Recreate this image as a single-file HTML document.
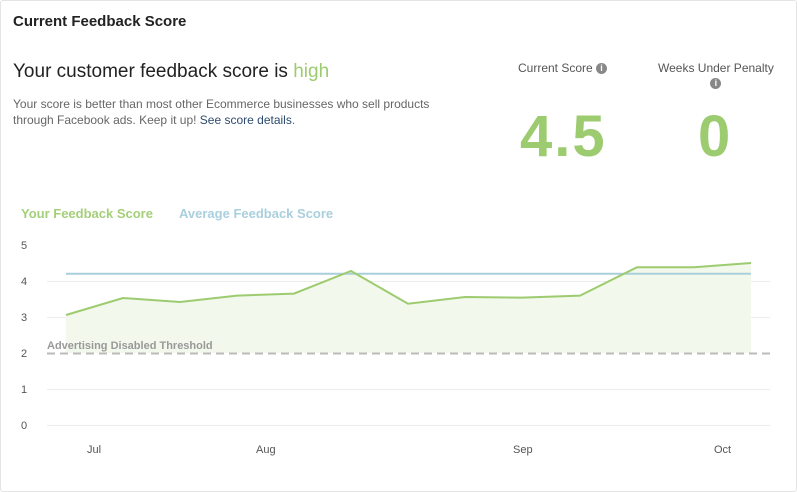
<!DOCTYPE html>
<html><head><style>
body{margin:0;background:#fff;font-family:"Liberation Sans",sans-serif;}
.card{position:absolute;left:0;top:0;width:795px;height:490px;border:1px solid #e4e4e4;border-radius:3px;}
.t{position:absolute;white-space:nowrap;}
</style></head><body>
<div class="card"></div>
<div class="t" style="left:13px;top:13px;font-size:15px;font-weight:bold;color:#222;">Current Feedback Score</div>
<div class="t" style="left:13px;top:61px;font-size:19px;color:#222;">Your customer feedback score is <span style="color:#9dcb6f">high</span></div>
<div class="t" style="left:13px;top:96px;font-size:12px;color:#666;line-height:16px;">Your score is better than most other Ecommerce businesses who sell products<br>through Facebook ads. Keep it up! <span style="color:#2c4a6e">See score details</span>.</div>
<div class="t" style="left:518px;top:61px;font-size:12px;color:#555;">Current Score <span style="display:inline-block;width:11px;height:11px;border-radius:50%;background:#888;color:#fff;font-size:9px;text-align:center;line-height:11px;font-weight:bold;vertical-align:1px">i</span></div>
<div class="t" style="left:658px;top:61px;font-size:12px;color:#555;text-align:center;">Weeks Under Penalty<br><span style="display:inline-block;width:11px;height:11px;border-radius:50%;background:#888;color:#fff;font-size:9px;text-align:center;line-height:11px;font-weight:bold;">i</span></div>
<div class="t" style="left:520px;top:103px;font-size:58px;font-weight:bold;color:#9dcb6f;letter-spacing:2px;">4.5</div>
<div class="t" style="left:698px;top:103px;font-size:58px;font-weight:bold;color:#9dcb6f;">0</div>
<div class="t" style="left:21px;top:206px;font-size:13px;font-weight:bold;color:#a5cf7a;">Your Feedback Score</div>
<div class="t" style="left:179px;top:206px;font-size:13px;font-weight:bold;color:#aacfdd;">Average Feedback Score</div>
<svg width="797" height="492" style="position:absolute;left:0;top:0" font-family="Liberation Sans,sans-serif">
<g stroke="#ececec" stroke-width="1">
<line x1="47" y1="281.5" x2="770" y2="281.5"/><line x1="47" y1="317.5" x2="770" y2="317.5"/>
<line x1="47" y1="389.5" x2="770" y2="389.5"/><line x1="47" y1="425.5" x2="770" y2="425.5"/>
</g>
<g font-size="11" fill="#555">
<text x="21" y="249">5</text><text x="21" y="285">4</text><text x="21" y="321">3</text><text x="21" y="357">2</text><text x="21" y="393">1</text><text x="21" y="429">0</text>
<text x="87" y="453">Jul</text><text x="256" y="453">Aug</text><text x="513" y="453">Sep</text><text x="714" y="453">Oct</text>
</g>
<polygon fill="#f2f8ec" points="66,315 123,298 180,302 237,295.6 294,293.6 351,271 408,303.7 465,297 522,297.6 580,295.6 637,267.3 694,267.3 751,263 751,353 66,353"/>
<line x1="66" y1="273.8" x2="751" y2="273.8" stroke="#a9cfdc" stroke-width="2"/>
<polyline fill="none" stroke="#9dcb6f" stroke-width="2" points="66,315 123,298 180,302 237,295.6 294,293.6 351,271 408,303.7 465,297 522,297.6 580,295.6 637,267.3 694,267.3 751,263"/>
<line x1="47" y1="353.5" x2="770" y2="353.5" stroke="#bbb" stroke-width="2" stroke-dasharray="8,5"/>
<text x="47" y="349" font-size="11" font-weight="bold" fill="#999">Advertising Disabled Threshold</text>
</svg>
</body></html>
